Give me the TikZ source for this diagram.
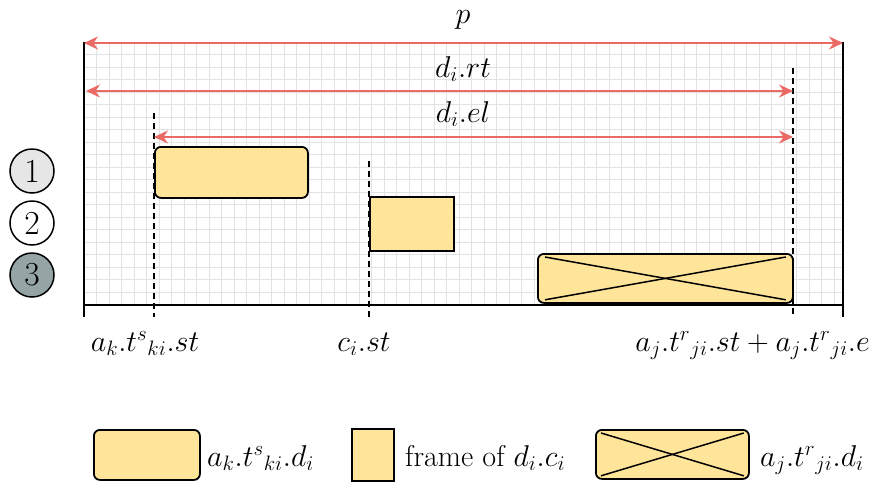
\documentclass[tikz,border=0pt]{standalone}
\usepackage{graphicx}
\usetikzlibrary{arrows.meta}
\definecolor{boxfill}{HTML}{FFE599}
\definecolor{arrc}{HTML}{EA6B66}
\definecolor{gridc}{HTML}{E2E2E2}
\definecolor{cone}{HTML}{E6E6E6}
\definecolor{cthree}{HTML}{95A5A6}
\newcommand{\bigt}[1]{\scalebox{1.45}{\huge #1}}
\begin{document}
\begin{tikzpicture}[x=1pt,y=-1pt,
  lbl/.style={inner sep=0pt},
  redarr/.style={arrc, line width=1.8pt, {Stealth[length=14pt,width=13pt]}-{Stealth[length=14pt,width=13pt]}},
  dline/.style={black, line width=1.6pt, dash pattern=on 6pt off 4pt},
  frameline/.style={black, line width=1.8pt},
  tbox/.style={draw=black, fill=boxfill, line width=1.8pt, inner sep=0pt},
  rbox/.style={tbox, rounded corners=6pt},
  num/.style={circle, draw=black, line width=1.5pt, minimum size=44pt, inner sep=0pt}
]
\useasboundingbox (0,0) rectangle (877,483);
% grid
\foreach \i in {1,...,60} \draw[gridc, line width=0.9pt] ({84+12.5*\i},42) -- ({84+12.5*\i},305);
\foreach \j in {1,...,20} \draw[gridc, line width=0.9pt] (84,{42+12.5*\j}) -- (843,{42+12.5*\j});
% frame
\coordinate (ftl) at (84,42);
\coordinate (ftr) at (843,42);
\coordinate (fbl) at (84,317);
\coordinate (fbr) at (843,317);
\coordinate (axl) at (84,305);
\coordinate (axr) at (843,305);
\draw[black, line width=1pt] (ftl) -- (ftr);
\draw[frameline] (ftl) -- (fbl);
\draw[frameline] (ftr) -- (fbr);
\draw[frameline] (axl) -- (axr);
% dashed lines
\coordinate (d1t) at (154,113); \coordinate (d1b) at (154,317);
\coordinate (d2t) at (369,161); \coordinate (d2b) at (369,317);
\coordinate (d3t) at (793,68);  \coordinate (d3b) at (793,317);
\draw[dline] (d1t) -- (d1b);
\draw[dline] (d2t) -- (d2b);
\draw[dline] (d3t) -- (d3b);
% boxes
\node[rbox, minimum width=153pt, minimum height=51pt, anchor=north west] (b1) at (154,146) {};
\node[tbox, minimum width=84pt, minimum height=54pt, anchor=north west] (b2) at (369,196) {};
\node[rbox, minimum width=255pt, minimum height=49pt, anchor=north west] (b3) at (537,253) {};
\draw[black, line width=1.5pt] ([shift={(8,4)}]b3.north west) -- ([shift={(-8,-4)}]b3.south east);
\draw[black, line width=1.5pt] ([shift={(8,-4)}]b3.south west) -- ([shift={(-8,4)}]b3.north east);
% arrows
\coordinate (pL) at (84,43); \coordinate (pR) at (843,43);
\coordinate (rtL) at (86,91); \coordinate (rtR) at (793,91);
\coordinate (elL) at (154,137); \coordinate (elR) at (793,137);
\draw[redarr] (pL) -- (pR);
\draw[redarr] (rtL) -- (rtR);
\draw[redarr] (elL) -- (elR);
\node[lbl, anchor=base] (lp) at (463,23) {\bigt{$p$}};
\node[lbl, anchor=base] (lrt) at (463,77) {\bigt{$d_{i}.rt$}};
\node[lbl, anchor=base] (lel) at (463,122) {\bigt{$d_{i}.el$}};
% circles
\node[num, fill=cone] (n1) at (32,171) {\scalebox{1.35}{\Huge 1}};
\node[num, fill=white] (n2) at (32,223) {\scalebox{1.35}{\Huge 2}};
\node[num, fill=cthree] (n3) at (32,275) {\scalebox{1.35}{\Huge 3}};
% axis labels
\node[lbl, anchor=base] (x1) at (145,351) {\bigt{$a_{k}.t^{s}{}_{ki}.st$}};
\node[lbl, anchor=base] (x2) at (364,351) {\bigt{$c_{i}.st$}};
\node[lbl, anchor=base east] (x3) at (870,351) {\bigt{$a_{j}.t^{r}{}_{ji}.st + a_{j}.t^{r}{}_{ji}.e$}};
% legend
\node[rbox, minimum width=106pt, minimum height=50pt, anchor=north west] (g1) at (93,429) {};
\node[lbl, anchor=base west] (g1t) at (207,466) {\bigt{$a_{k}.t^{s}{}_{ki}.d_{i}$}};
\node[tbox, minimum width=42pt, minimum height=52pt, anchor=north west] (g2) at (351,428) {};
\node[lbl, anchor=base west] (g2t) at (405,466) {\bigt{frame of $d_{i}.c_{i}$}};
\node[rbox, minimum width=153pt, minimum height=49pt, anchor=north west] (g3) at (595,429) {};
\draw[black, line width=1.5pt] ([shift={(6,4)}]g3.north west) -- ([shift={(-6,-4)}]g3.south east);
\draw[black, line width=1.5pt] ([shift={(6,-4)}]g3.south west) -- ([shift={(-6,4)}]g3.north east);
\node[lbl, anchor=base west] (g3t) at (760,466) {\bigt{$a_{j}.t^{r}{}_{ji}.d_{i}$}};
\end{tikzpicture}
\end{document}
